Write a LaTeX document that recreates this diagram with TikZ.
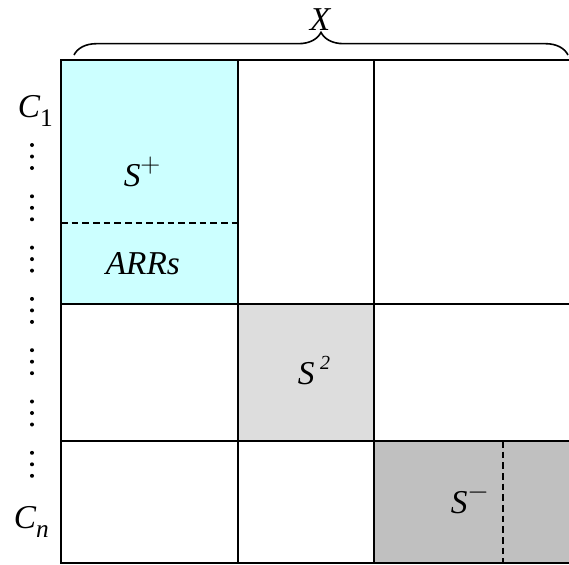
\documentclass[tikz,border=0pt]{standalone}
\usepackage{fontspec}
\setmainfont{Liberation Serif}
\usetikzlibrary{decorations.pathreplacing}

\definecolor{arrcyan}{RGB}{204,255,255}
\definecolor{sqgray}{RGB}{221,221,221}
\definecolor{neggray}{RGB}{192,192,192}

\newcommand\supsign[1]{\raisebox{10pt}{\fontsize{21}{21}\selectfont$#1$}}
\newcommand\subidx[1]{\raisebox{-7pt}{\fontsize{19}{19}\selectfont #1}}

\begin{document}
\begin{tikzpicture}[x=0.75pt, y=-0.75pt, line width=1.2pt,
  lbl/.style={font=\fontsize{25}{30}\selectfont\itshape, inner sep=0pt, anchor=base west},
  cut/.style={dash pattern=on 5pt off 3pt, line width=0.9pt}]
\useasboundingbox (0,0) rectangle (569,565);
\clip (0,0) rectangle (569,565);
% Shaded blocks
\fill[arrcyan] (61,60) rectangle (238,304);
\fill[sqgray] (238,304) rectangle (374,441);
\fill[neggray] (374,441) rectangle (581,563);
% Grid
\draw (61,60) rectangle (581,563);
\foreach \x in {238,374}
  \draw (\x,60) -- (\x,563);
\foreach \y in {304,441}
  \draw (61,\y) -- (581,\y);
% Dashed splits
\draw[cut] (61,223) -- (238,223);
\draw[cut] (503,441) -- (503,563);
% Block labels
\node[lbl] (splus) at (123,186) {S\supsign{+}};
\node[lbl] (arrs) at (105,274) {ARRs};
\node[lbl] (stwo) at (297,384) {S\,\raisebox{11pt}{\fontsize{15}{15}\selectfont 2}};
\node[lbl] (sminus) at (450,513) {S\supsign{-}};
% Brace over the columns
\draw[decorate, decoration={brace, amplitude=17pt}] (74,55) -- (568,55);
\node[lbl] (xset) at (309,30) {X};
% Row labels
\node[lbl] (c1) at (17,117) {C\subidx{\upshape 1}};
\node[lbl] (cn) at (13,528) {C\subidx{n}};
\foreach \g in {0,...,6}
  \foreach \d in {0,1,2}
    \fill (32,145+51.3*\g+11.5*\d) circle (2);
\end{tikzpicture}
\end{document}
